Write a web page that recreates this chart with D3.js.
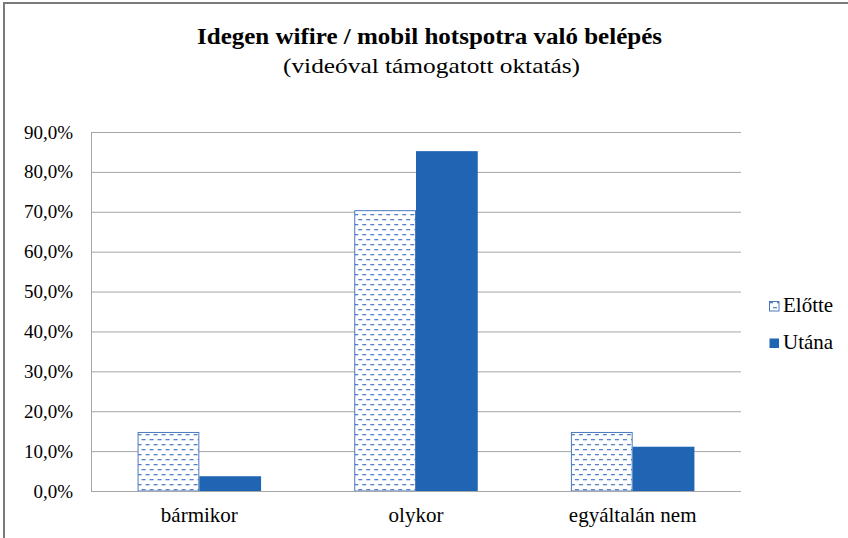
<!DOCTYPE html>
<html>
<head>
<meta charset="utf-8">
<script src="https://cdn.jsdelivr.net/npm/d3@7"></script>
</head>
<body style="margin:0">
<script>
// chart data
var categories = ["bármikor", "olykor", "egyáltalán nem"];
var seriesNames = ["Előtte", "Utána"];
var elotte = [14.8, 70.4, 14.8];
var utana = [3.7, 85.2, 11.1];
var yTicks = [0, 10, 20, 30, 40, 50, 60, 70, 80, 90];

var W = 848, H = 538;
var margin = {top: 132, right: 107, bottom: 47, left: 91},
  width = W - margin.left - margin.right,
  height = H - margin.top - margin.bottom;

var blue = "#1f65b4";
var serif = "'Liberation Serif'";

var svg = d3.select("body").append("svg")
  .attr("width", W)
  .attr("height", H)
  .style("display", "block");

// hatched pattern for "Előtte"
var defs = svg.append("defs");
var pat = defs.append("pattern")
  .attr("id", "dash")
  .attr("patternUnits", "userSpaceOnUse")
  .attr("width", 8)
  .attr("height", 10);
pat.append("rect").attr("width", 8).attr("height", 10).attr("fill", "#fff");
pat.append("rect").attr("x", 0).attr("y", 2).attr("width", 4).attr("height", 1.3).attr("fill", "#5582c8");
pat.append("rect").attr("x", 4).attr("y", 7).attr("width", 4).attr("height", 1.3).attr("fill", "#5582c8");

// outer frame
svg.append("rect")
  .attr("x", 4).attr("y", 3)
  .attr("width", W + 10).attr("height", H + 10)
  .attr("fill", "none")
  .attr("stroke", "#7a7a7a")
  .attr("stroke-width", 2);

// title
svg.append("text")
  .attr("x", 429.5).attr("y", 44)
  .attr("text-anchor", "middle")
  .style("font-family", serif)
  .attr("font-size", "24px")
  .attr("font-weight", "bold")
  .attr("textLength", 465)
  .attr("lengthAdjust", "spacingAndGlyphs")
  .text("Idegen wifire / mobil hotspotra való belépés");
svg.append("text")
  .attr("x", 431.5).attr("y", 73)
  .attr("text-anchor", "middle")
  .style("font-family", serif)
  .attr("font-size", "21px")
  .attr("textLength", 297)
  .attr("lengthAdjust", "spacingAndGlyphs")
  .text("(videóval  támogatott oktatás)");

var g = svg.append("g")
  .attr("transform", "translate(" + margin.left + "," + margin.top + ")");

var x0 = d3.scaleBand().domain(categories).range([0, width]).paddingInner(0.43).paddingOuter(0.215);
var x1 = d3.scaleBand().domain(seriesNames).range([0, x0.bandwidth()]);
var y = d3.scaleLinear().domain([0, 90]).range([height, 0]);

// gridlines
g.append("g")
  .call(d3.axisLeft(y).tickValues(yTicks).tickSize(-width).tickFormat(""))
  .call(function (s) {
    s.select(".domain").remove();
    s.selectAll("line").attr("stroke", "#a6a6a6");
  });

// left border of plot area
g.append("line")
  .attr("x1", 0.5).attr("x2", 0.5)
  .attr("y1", 0).attr("y2", height)
  .attr("stroke", "#a6a6a6");

// y axis labels
g.append("g")
  .call(d3.axisLeft(y).tickValues(yTicks).tickSize(0).tickPadding(18)
    .tickFormat(function (d) { return d.toFixed(1).replace(".", ",") + "%"; }))
  .call(function (s) {
    s.select(".domain").remove();
    s.attr("font-family", null);
    s.selectAll("text")
      .style("font-family", serif)
      .attr("font-size", "19px")
      .attr("fill", "#000");
  });

// bars
var rows = categories.map(function (c, i) {
  return {cat: c, vals: [{s: "Előtte", v: elotte[i]}, {s: "Utána", v: utana[i]}]};
});

var grp = g.selectAll(".cat")
  .data(rows)
  .enter().append("g")
  .attr("transform", function (d) { return "translate(" + x0(d.cat) + ",0)"; });

grp.selectAll("rect")
  .data(function (d) { return d.vals; })
  .enter().append("rect")
  .attr("x", function (d) { return x1(d.s) + (d.s === "Előtte" ? 0.5 : 0); })
  .attr("y", function (d) { return y(d.v) + (d.s === "Előtte" ? 0.5 : 0); })
  .attr("width", function (d) { return x1.bandwidth() - (d.s === "Előtte" ? 1 : 0); })
  .attr("height", function (d) { return height - y(d.v) - (d.s === "Előtte" ? 0.5 : 0); })
  .attr("fill", function (d) { return d.s === "Előtte" ? "url(#dash)" : blue; })
  .attr("stroke", function (d) { return d.s === "Előtte" ? "#4a78c0" : "none"; })
  .attr("stroke-width", 1);

// x axis
g.append("line")
  .attr("x1", 0).attr("x2", width)
  .attr("y1", height + 0.5).attr("y2", height + 0.5)
  .attr("stroke", "#a6a6a6");

g.append("g")
  .attr("transform", "translate(0," + height + ")")
  .call(d3.axisBottom(x0).tickSize(0).tickPadding(16))
  .call(function (s) {
    s.select(".domain").remove();
    s.attr("font-family", null);
    s.selectAll("text")
      .style("font-family", serif)
      .attr("font-size", "21px")
      .attr("fill", "#000");
  });

// legend
var legend = svg.append("g").attr("transform", "translate(769,300)");
seriesNames.forEach(function (n, i) {
  var row = legend.append("g").attr("transform", "translate(0," + (i * 37) + ")");
  row.append("rect")
    .attr("x", 0.5).attr("y", 1.5)
    .attr("width", 9.5).attr("height", 9.5)
    .attr("fill", i === 0 ? "url(#dash)" : blue)
    .attr("stroke", i === 0 ? "#4a78c0" : "none");
  row.append("text")
    .attr("x", 14).attr("y", 12)
    .style("font-family", serif)
    .attr("font-size", "21px")
    .text(n);
});
</script>
</body>
</html>
